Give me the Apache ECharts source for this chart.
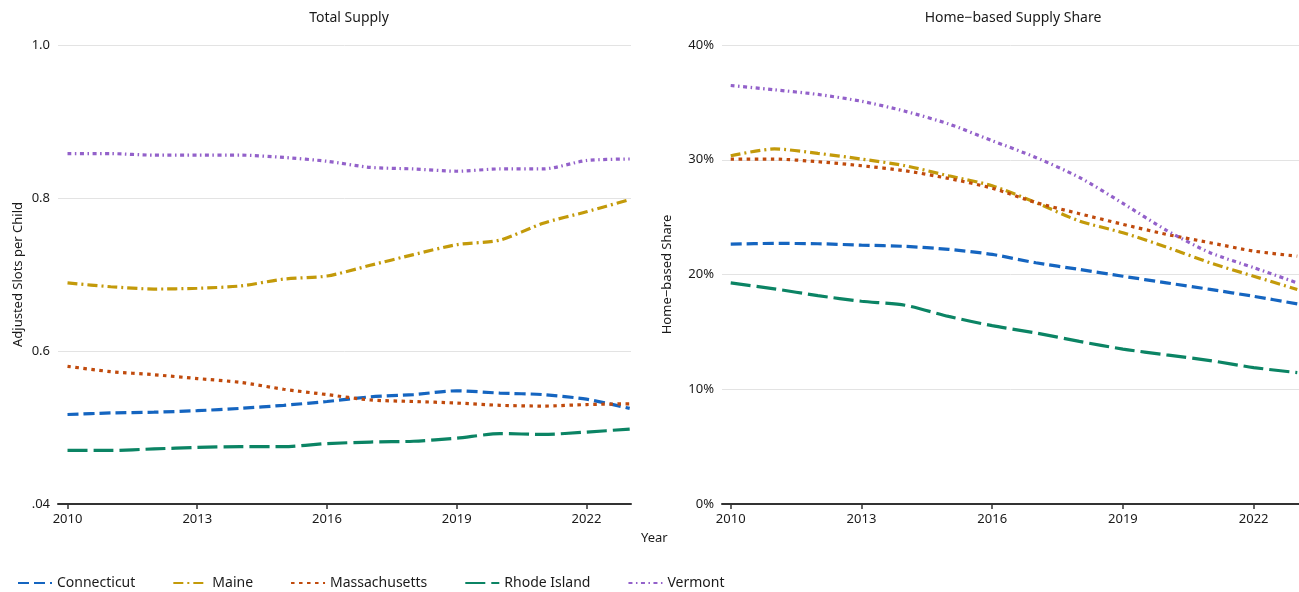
<!DOCTYPE html>
<html>
<head>
<meta charset="utf-8">
<script src="https://cdn.jsdelivr.net/npm/echarts@6/dist/echarts.min.js"></script>
<style>
html,body{margin:0;padding:0;background:#fff;}
#chart{width:1299px;height:592px;}
</style>
</head>
<body>
<div id="chart"></div>
<script>
// ---- data ----
const years = [2010,2011,2012,2013,2014,2015,2016,2017,2018,2019,2020,2021,2022,2023];
const states = ['Connecticut','Maine','Massachusetts','Rhode Island','Vermont'];
// Total supply: adjusted slots per child
const totalConnecticut   = [0.517,0.519,0.520,0.522,0.525,0.529,0.534,0.540,0.543,0.548,0.545,0.543,0.537,0.525];
const totalMaine         = [0.689,0.684,0.681,0.682,0.685,0.694,0.698,0.712,0.726,0.739,0.745,0.767,0.782,0.798];
const totalMassachusetts = [0.580,0.573,0.569,0.564,0.559,0.550,0.543,0.536,0.534,0.532,0.529,0.528,0.530,0.531];
const totalRhodeIsland   = [0.470,0.470,0.472,0.474,0.475,0.475,0.479,0.481,0.482,0.486,0.492,0.491,0.494,0.498];
const totalVermont       = [0.858,0.858,0.856,0.856,0.856,0.853,0.848,0.840,0.838,0.835,0.838,0.838,0.849,0.851];
// Home-based supply share (%)
const shareConnecticut   = [22.65,22.71,22.68,22.56,22.45,22.19,21.75,21.02,20.44,19.85,19.27,18.70,18.10,17.44];
const shareMaine         = [30.35,30.94,30.56,30.06,29.48,28.60,27.73,26.27,24.66,23.64,22.39,21.02,19.85,18.70];
const shareMassachusetts = [30.06,30.06,29.83,29.48,29.04,28.37,27.52,26.27,25.30,24.37,23.50,22.77,22.04,21.60];
const shareRhodeIsland   = [19.27,18.75,18.16,17.67,17.32,16.35,15.54,14.90,14.17,13.50,13.00,12.50,11.89,11.45];
const shareVermont       = [36.47,36.10,35.69,35.10,34.23,33.12,31.66,30.20,28.46,26.20,23.85,21.90,20.60,19.27];
const xTicks = [2010,2013,2016,2019,2022];
const leftYTickLabels = ['.04','0.6','0.8','1.0'];
const rightYTickLabels = ['0%','10%','20%','30%','40%'];
const panelTitles = ['Total Supply','Home\u2212based Supply Share'];
const leftYName = 'Adjusted Slots per Child';
const rightYName = 'Home\u2212based Share';
const xName = 'Year';

// ---- styles ----
const colors = ['#1565C0','#C39A0A','#C04A0C','#0B8464','#9361CA'];
const dashes = [[11,5],[10,4,2,4],[3.5,4.5],[20,6],[4,3.5,1.5,3.5]];
const FONT = 'Noto Sans';
const TXT = '#1a1a1a';
const totals = [totalConnecticut,totalMaine,totalMassachusetts,totalRhodeIsland,totalVermont];
const shares = [shareConnecticut,shareMaine,shareMassachusetts,shareRhodeIsland,shareVermont];

function pairs(arr){ return years.map((y,i)=>[y,arr[i]]); }

const series = [];
states.forEach((s,i)=>{
  const ls = {color:colors[i], width:3.2, type:dashes[i], cap:'butt'};
  series.push({name:s,type:'line',xAxisIndex:0,yAxisIndex:0,data:pairs(totals[i]),
    symbol:'none',showSymbol:false,smooth:0.25,lineStyle:ls,itemStyle:{color:colors[i]},z:2+i,animation:false});
  series.push({name:s,type:'line',xAxisIndex:1,yAxisIndex:1,data:pairs(shares[i]),
    symbol:'none',showSymbol:false,smooth:0.25,lineStyle:ls,itemStyle:{color:colors[i]},z:2+i,animation:false});
});

function xAxis(gridIndex,min,max){
  return {type:'value',gridIndex,min,max,
    axisLine:{show:true,lineStyle:{color:'#333',width:2}},
    axisTick:{show:true,customValues:xTicks,length:5,lineStyle:{color:'#333',width:1.5}},
    axisLabel:{customValues:xTicks,color:TXT,fontFamily:FONT,fontSize:13,margin:9,formatter:v=>String(v)},
    splitLine:{show:false}};
}

const option = {
  backgroundColor:'#fff',
  animation:false,
  textStyle:{fontFamily:FONT},
  title:[
    {text:panelTitles[0],left:344,top:6,textAlign:'center',textStyle:{fontFamily:FONT,fontSize:14,fontWeight:'normal',color:TXT}},
    {text:panelTitles[1],left:1008,top:6,textAlign:'center',textStyle:{fontFamily:FONT,fontSize:14,fontWeight:'normal',color:TXT}}
  ],
  grid:[
    {left:58,top:45,width:573,height:459},
    {left:722,top:45,width:577,height:459}
  ],
  xAxis:[xAxis(0,2009.78,2023.03),xAxis(1,2009.8,2023.04)],
  yAxis:[
    {type:'value',gridIndex:0,min:0.4,max:1.0,interval:0.2,
      name:leftYName,nameLocation:'middle',nameRotate:90,nameGap:33,
      nameTextStyle:{fontFamily:FONT,fontSize:13,color:TXT},
      axisLine:{show:false},axisTick:{show:false},
      axisLabel:{color:TXT,fontFamily:FONT,fontSize:13,margin:8,
        formatter:(v)=>leftYTickLabels[Math.round((v-0.4)/0.2)]},
      splitLine:{show:true,lineStyle:{color:'#e3e3e3',width:1}}},
    {type:'value',gridIndex:1,min:0,max:40,interval:10,
      name:rightYName,nameLocation:'middle',nameRotate:90,nameGap:48,
      nameTextStyle:{fontFamily:FONT,fontSize:13,color:TXT},
      axisLine:{show:false},axisTick:{show:false},
      axisLabel:{color:TXT,fontFamily:FONT,fontSize:13,margin:8,
        formatter:(v)=>rightYTickLabels[Math.round(v/10)]},
      splitLine:{show:true,lineStyle:{color:'#e3e3e3',width:1}}}
  ],
  legend:{data:states,left:12,top:571,itemWidth:34,itemHeight:14,itemGap:37,
    itemStyle:{opacity:0},
    textStyle:{fontFamily:FONT,fontSize:14,color:TXT}},
  graphic:[
    {type:'text',left:641,top:532,style:{text:xName,font:'13px "Noto Sans"',fill:TXT}}
  ],
  series
};

const chart = echarts.init(document.getElementById('chart'),null,{renderer:'canvas'});
chart.setOption(option);
</script>
</body>
</html>
